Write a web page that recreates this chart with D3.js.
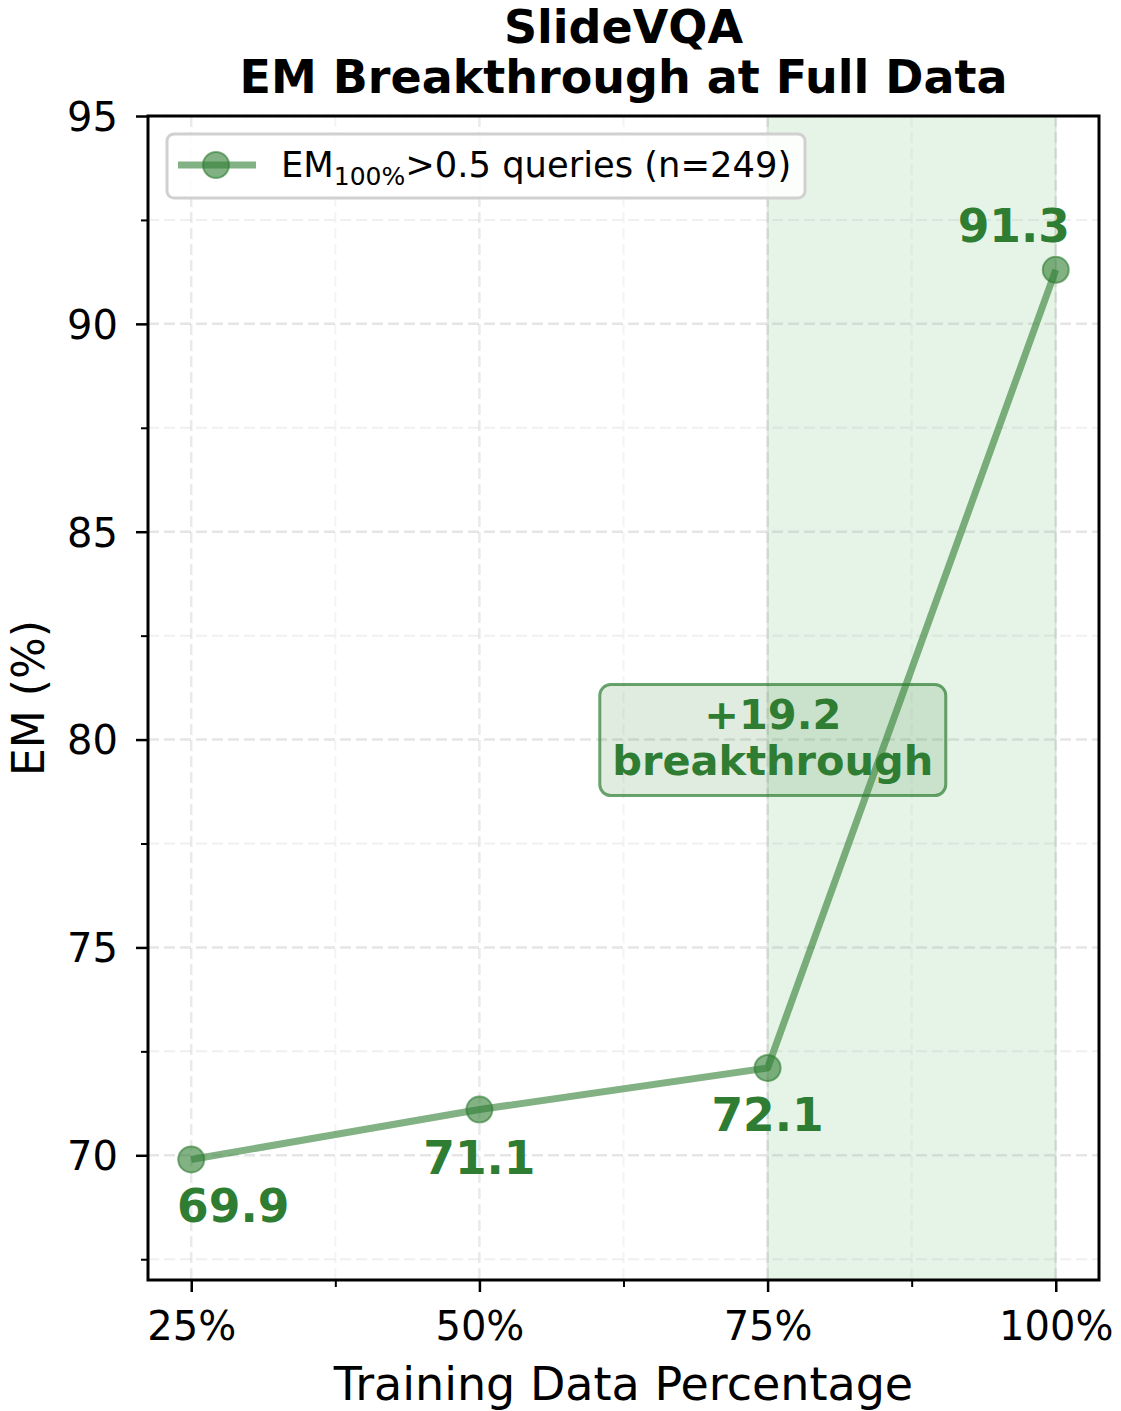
<!DOCTYPE html>
<html><head><meta charset="utf-8">
<script src="https://cdn.jsdelivr.net/npm/d3@7"></script>
<style>body{margin:0;background:#fff}svg{display:block}text{font-family:"DejaVu Sans",sans-serif}</style>
</head><body>
<script>
const categories = [25, 50, 75, 100];
const tickLabels = ["25%", "50%", "75%", "100%"];
const emValues = [69.9, 71.1, 72.1, 91.3];
const valueLabels = ["69.9", "71.1", "72.1", "91.3"];
const yTicks = [70, 75, 80, 85, 90, 95];
const yMinor = [67.5, 72.5, 77.5, 82.5, 87.5, 92.5];
const xMinor = [37.5, 62.5, 87.5];
const titleLines = ["SlideVQA", "EM Breakthrough at Full Data"];
const legendText = {main: "EM", sub: "100%", rest: ">0.5 queries (n=249)"};
const annotationLines = ["+19.2", "breakthrough"];
const spanRange = [75, 100];

const W = 1121, H = 1411;
const L = 148, R = 1099, T = 116, B = 1280;
const green = "#2e7d32";

const svg = d3.select("body").append("svg").attr("width", W).attr("height", H);
const x = d3.scaleLinear().domain([21.25, 103.75]).range([L, R]);
const y = d3.scaleLinear().domain([67.0, 95]).range([B, T]);

// shaded span
svg.append("rect").attr("x", x(spanRange[0])).attr("y", T)
  .attr("width", x(spanRange[1]) - x(spanRange[0])).attr("height", B - T)
  .attr("fill", "#e6f4e7").attr("stroke", "rgba(46,125,50,0.12)").attr("stroke-width", 2);

// grid
const grid = svg.append("g");
yTicks.forEach(v => grid.append("line").attr("x1", L).attr("x2", R).attr("y1", y(v)).attr("y2", y(v))
  .attr("stroke", "rgba(150,150,150,0.25)").attr("stroke-width", 2.5).attr("stroke-dasharray", "11,5"));
yMinor.forEach(v => grid.append("line").attr("x1", L).attr("x2", R).attr("y1", y(v)).attr("y2", y(v))
  .attr("stroke", "rgba(150,150,150,0.14)").attr("stroke-width", 2).attr("stroke-dasharray", "11,5"));
categories.forEach(v => grid.append("line").attr("y1", T).attr("y2", B).attr("x1", x(v)).attr("x2", x(v))
  .attr("stroke", "rgba(150,150,150,0.2)").attr("stroke-width", 2.5).attr("stroke-dasharray", "11,5"));
xMinor.forEach(v => grid.append("line").attr("y1", T).attr("y2", B).attr("x1", x(v)).attr("x2", x(v))
  .attr("stroke", "rgba(150,150,150,0.1)").attr("stroke-width", 2).attr("stroke-dasharray", "11,5"));

// line
const pts = categories.map((c, i) => [c, emValues[i]]);
svg.append("path").datum(pts)
  .attr("d", d3.line().x(d => x(d[0])).y(d => y(d[1])))
  .attr("fill", "none").attr("stroke", green).attr("stroke-opacity", 0.6)
  .attr("stroke-width", 7).attr("stroke-linejoin", "round").attr("stroke-linecap", "butt");
svg.append("g").selectAll("circle").data(pts).join("circle")
  .attr("cx", d => x(d[0])).attr("cy", d => y(d[1])).attr("r", 13)
  .attr("fill", green).attr("fill-opacity", 0.6)
  .attr("stroke", green).attr("stroke-opacity", 0.6).attr("stroke-width", 2);

// value labels
const labelDx = [42, 0, 0, -42];
const labelDy = [63, 64, 63, -28];
svg.append("g").selectAll("text").data(pts).join("text")
  .attr("x", (d, i) => x(d[0]) + labelDx[i]).attr("y", (d, i) => y(d[1]) + labelDy[i])
  .attr("text-anchor", "middle").attr("font-weight", "bold").attr("font-size", 45.5)
  .attr("fill", green).text((d, i) => valueLabels[i]);

// annotation box
const ax = x(75.45), ay = y(80);
svg.append("rect").attr("x", ax - 173).attr("y", ay - 55).attr("width", 346).attr("height", 111)
  .attr("rx", 11).attr("fill", "rgba(46,125,50,0.15)")
  .attr("stroke", green).attr("stroke-opacity", 0.7).attr("stroke-width", 3);
svg.append("text").attr("x", ax).attr("y", ay - 11).attr("text-anchor", "middle")
  .attr("font-weight", "bold").attr("font-size", 41.5).attr("fill", green).text(annotationLines[0]);
svg.append("text").attr("x", ax).attr("y", ay + 35).attr("text-anchor", "middle")
  .attr("font-weight", "bold").attr("font-size", 41.5).attr("fill", green).text(annotationLines[1]);

// axes
const xAxis = svg.append("g").attr("transform", `translate(0,${B})`)
  .call(d3.axisBottom(x).tickValues(categories).tickFormat((d, i) => tickLabels[i]).tickSize(12).tickPadding(19));
const xAxisMinor = svg.append("g").attr("transform", `translate(0,${B})`)
  .call(d3.axisBottom(x).tickValues(xMinor).tickFormat("").tickSize(7));
const yAxis = svg.append("g").attr("transform", `translate(${L},0)`)
  .call(d3.axisLeft(y).tickValues(yTicks).tickSize(12).tickPadding(18));
const yAxisMinor = svg.append("g").attr("transform", `translate(${L},0)`)
  .call(d3.axisLeft(y).tickValues(yMinor).tickFormat("").tickSize(7));
[xAxis, yAxis, xAxisMinor, yAxisMinor].forEach(g => {
  g.select(".domain").remove();
  g.selectAll(".tick line").attr("stroke", "#000").attr("stroke-width", 2.5);
  g.selectAll(".tick text").attr("font-size", 40).attr("fill", "#000").style("font-family", '"DejaVu Sans"');
});
xAxis.selectAll(".tick text").attr("dy", "0.73em");
yAxis.selectAll(".tick text").attr("dy", "0.36em");
xAxisMinor.selectAll(".tick line").attr("stroke-width", 2);
yAxisMinor.selectAll(".tick line").attr("stroke-width", 2);

// frame
svg.append("rect").attr("x", L).attr("y", T).attr("width", R - L).attr("height", B - T)
  .attr("fill", "none").attr("stroke", "#000").attr("stroke-width", 3);

// legend
const lg = svg.append("g");
lg.append("rect").attr("x", 167).attr("y", 134).attr("width", 638).attr("height", 64).attr("rx", 7)
  .attr("fill", "rgba(255,255,255,0.85)").attr("stroke", "#d0d0d0").attr("stroke-width", 3);
lg.append("line").attr("x1", 178).attr("x2", 256).attr("y1", 165).attr("y2", 165)
  .attr("stroke", green).attr("stroke-opacity", 0.6).attr("stroke-width", 7);
lg.append("circle").attr("cx", 216).attr("cy", 165).attr("r", 13)
  .attr("fill", green).attr("fill-opacity", 0.6).attr("stroke", green).attr("stroke-opacity", 0.6).attr("stroke-width", 2);
const lt = lg.append("text").attr("x", 281).attr("y", 177).attr("font-size", 35.3).attr("fill", "#000");
lt.append("tspan").text(legendText.main);
lt.append("tspan").attr("font-size", 25).attr("dy", 8).text(legendText.sub);
lt.append("tspan").attr("dy", -8).text(legendText.rest);

// titles
svg.append("text").attr("x", (L + R) / 2).attr("y", 43).attr("text-anchor", "middle")
  .attr("font-weight", "bold").attr("font-size", 46).text(titleLines[0]);
svg.append("text").attr("x", (L + R) / 2).attr("y", 93).attr("text-anchor", "middle")
  .attr("font-weight", "bold").attr("font-size", 46).text(titleLines[1]);

// axis labels
svg.append("text").attr("x", (L + R) / 2).attr("y", 1400).attr("text-anchor", "middle")
  .attr("font-size", 46).text("Training Data Percentage");
svg.append("text").attr("transform", `translate(44,${(T + B) / 2}) rotate(-90)`).attr("text-anchor", "middle")
  .attr("font-size", 44).text("EM (%)");
</script>
</body></html>
